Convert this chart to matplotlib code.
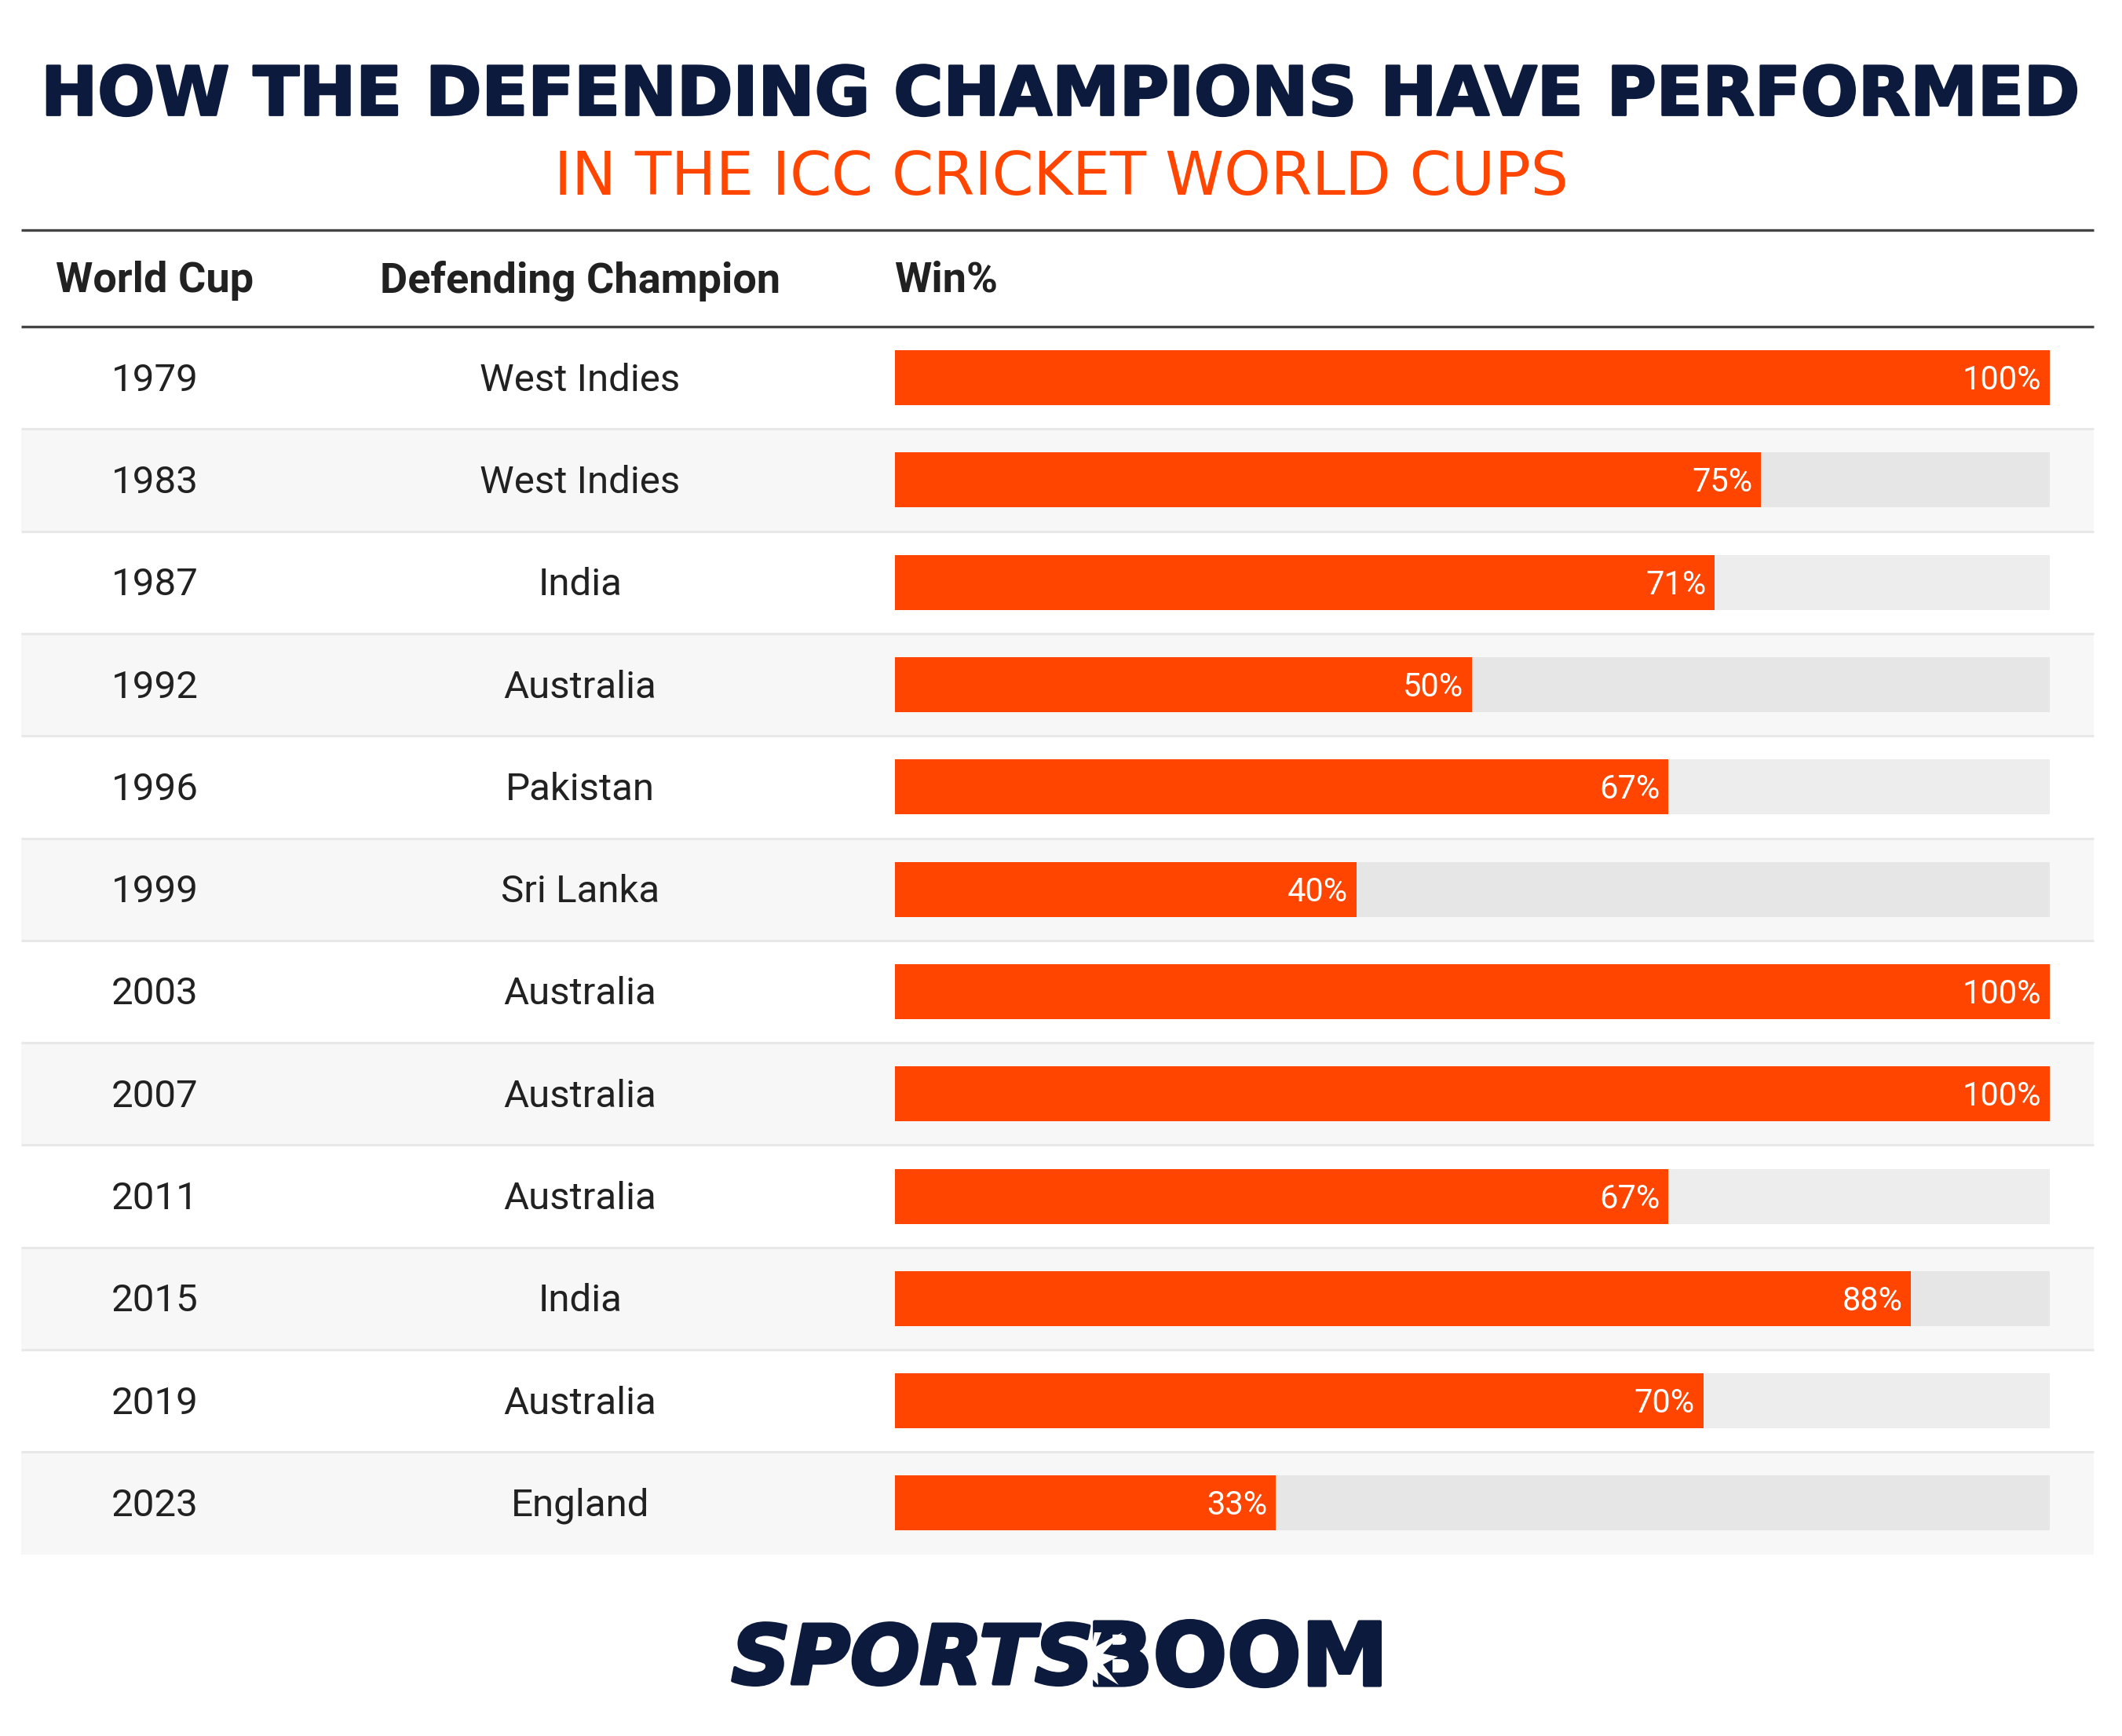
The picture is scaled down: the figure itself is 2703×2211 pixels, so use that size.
"""Defending champions table with win% bars."""

import matplotlib

matplotlib.use("Agg")
import matplotlib.patheffects as pe
import matplotlib.pyplot as plt
from matplotlib.patches import Polygon, Rectangle

WIDTH = 2703
HEIGHT = 2211

YEARS = ["1979", "1983", "1987", "1992", "1996", "1999", "2003", "2007", "2011", "2015", "2019", "2023"]
CHAMPIONS = [
    "West Indies", "West Indies", "India", "Australia", "Pakistan", "Sri Lanka",
    "Australia", "Australia", "Australia", "India", "Australia", "England",
]
WIN_PCT = [100, 75, 71, 50, 67, 40, 100, 100, 67, 88, 70, 33]
HEADERS = ["World Cup", "Defending Champion", "Win%"]

NAVY = "#0c1a3d"
ORANGE = "#ff4500"
TEXT = "#212121"

TABLE_LEFT = 27
TABLE_RIGHT = 2667
TABLE_TOP = 416
ROW_H = 130.3
BAR_LEFT = 1139.5
BAR_RIGHT = 2611
BAR_H = 70
COL_YEAR = 197
COL_CHAMP = 739
TEXT_SHIFT = 3.5

fig = plt.figure(figsize=(WIDTH / 100, HEIGHT / 100), dpi=100, facecolor="white")

# fondo en pixeles para textos y filas
ax = fig.add_axes([0, 0, 1, 1])
ax.set_xlim(0, WIDTH)
ax.set_ylim(HEIGHT, 0)
ax.axis("off")

ax.text(WIDTH / 2 - 1, 123, "HOW THE DEFENDING CHAMPIONS HAVE PERFORMED", ha="center", va="center",
        fontsize=62, fontweight="bold", family="DejaVu Sans", color=NAVY,
        path_effects=[pe.withStroke(linewidth=2, foreground=NAVY)])
ax.text(1352, 227, "IN THE ICC CRICKET WORLD CUPS", ha="center", va="center",
        fontsize=54.5, family="DejaVu Sans", color=ORANGE)

ax.plot([TABLE_LEFT, TABLE_RIGHT], [293, 293], color="#444444", lw=2.4, solid_capstyle="butt")
ax.plot([TABLE_LEFT, TABLE_RIGHT], [TABLE_TOP, TABLE_TOP], color="#444444", lw=2.4, solid_capstyle="butt")

ax.text(COL_YEAR, 357.5, HEADERS[0], ha="center", va="center", fontsize=39, fontweight="bold",
        family="Roboto", color=TEXT)
ax.text(COL_CHAMP, 357.5, HEADERS[1], ha="center", va="center", fontsize=39, fontweight="bold",
        family="Roboto", color=TEXT)
ax.text(BAR_LEFT, 357.5, HEADERS[2], ha="left", va="center", fontsize=39, fontweight="bold",
        family="Roboto", color=TEXT)

for i, (year, champ) in enumerate(zip(YEARS, CHAMPIONS)):
    top = TABLE_TOP + i * ROW_H
    mid = top + ROW_H / 2 + TEXT_SHIFT
    if i % 2 == 1:
        ax.add_patch(Rectangle((TABLE_LEFT, top), TABLE_RIGHT - TABLE_LEFT, ROW_H, color="#f7f7f7", lw=0))
    if i > 0:
        ax.plot([TABLE_LEFT, TABLE_RIGHT], [top, top], color="#e8e8e8", lw=2.2, solid_capstyle="butt")
    ax.text(COL_YEAR, mid, year, ha="center", va="center", fontsize=35.5, family="Roboto", color=TEXT)
    ax.text(COL_CHAMP, mid, champ, ha="center", va="center", fontsize=35.5, family="Roboto", color=TEXT)

# logo
logo_stroke = [pe.withStroke(linewidth=3, foreground=NAVY)]
ax.text(1393, 2116, "SPORTS", ha="right", va="center", fontsize=75, fontweight="bold", style="italic",
        family="DejaVu Sans", color=NAVY, path_effects=logo_stroke)
ax.text(1384, 2116, "BOOM", ha="left", va="center", fontsize=80, fontweight="bold",
        family="DejaVu Sans", color=NAVY, path_effects=logo_stroke)
star = [(1394, 2079), (1403, 2079), (1396, 2097), (1430, 2079), (1405, 2106), (1424, 2110),
        (1405, 2120), (1425, 2146), (1398, 2130), (1399, 2146), (1392, 2139), (1388, 2113)]
ax.add_patch(Polygon(star, closed=True, color="white", lw=0, zorder=5))

# barras con escala propia de 0 a 100
bar_ax = fig.add_axes([
    BAR_LEFT / WIDTH,
    1 - (TABLE_TOP + 12 * ROW_H) / HEIGHT,
    (BAR_RIGHT - BAR_LEFT) / WIDTH,
    12 * ROW_H / HEIGHT,
])
bar_ax.set_xlim(0, 100)
bar_ax.set_ylim(12, 0)
bar_ax.axis("off")
bar_ax.patch.set_alpha(0)

rows = [i + 0.5 for i in range(len(WIN_PCT))]
tracks = ["#ededed" if i % 2 == 0 else "#e6e6e6" for i in range(len(WIN_PCT))]
bar_ax.barh(rows, [100] * len(rows), height=BAR_H / ROW_H, color=tracks, lw=0)
bar_ax.barh(rows, WIN_PCT, height=BAR_H / ROW_H, color=ORANGE, lw=0)
for y, pct in zip(rows, WIN_PCT):
    bar_ax.text(pct - 0.75, y + TEXT_SHIFT / ROW_H, f"{pct}%", ha="right", va="center", fontsize=30,
                family="Roboto", color="white")

fig.savefig("out.png", dpi=100)
